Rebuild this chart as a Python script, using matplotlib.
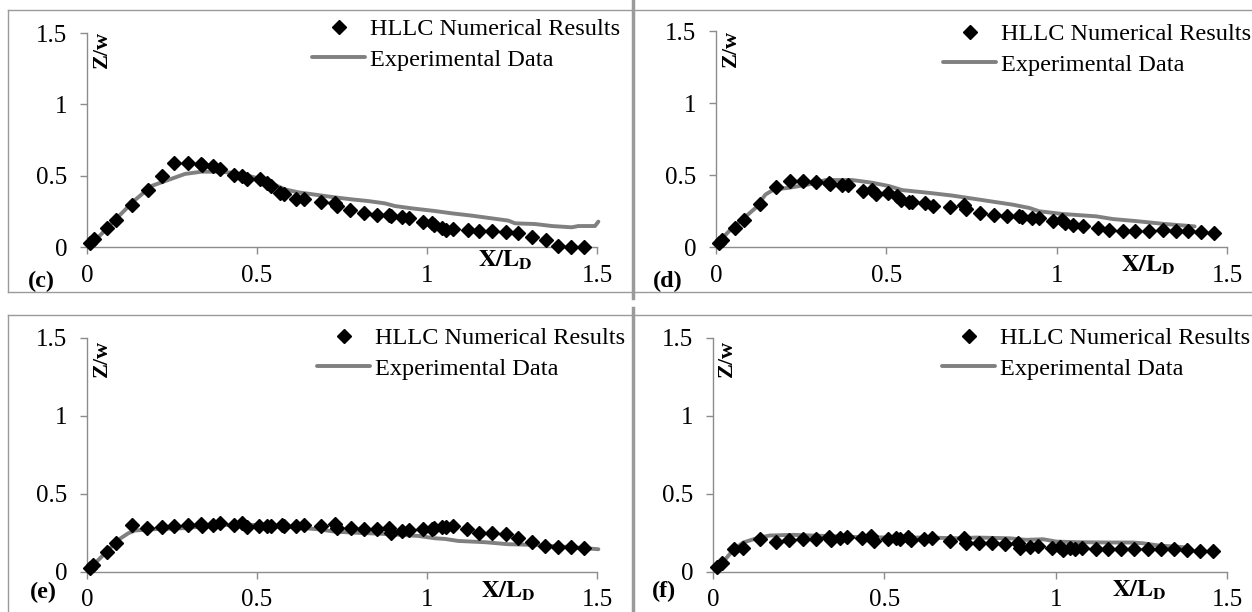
import matplotlib
matplotlib.use("Agg")
import matplotlib.pyplot as plt
from matplotlib.lines import Line2D

# ---------- data ----------
# (c)
c_hllc_x = [0.009, 0.022, 0.058, 0.084, 0.133, 0.178, 0.221, 0.257, 0.298, 0.335, 0.339, 0.370, 0.391,
            0.432, 0.457, 0.470, 0.509, 0.530, 0.540, 0.568, 0.580, 0.614, 0.639, 0.688, 0.729, 0.734,
            0.774, 0.816, 0.854, 0.889, 0.894, 0.925, 0.947, 0.989, 1.014, 1.022, 1.045, 1.056, 1.077,
            1.120, 1.154, 1.192, 1.231, 1.269, 1.310, 1.349, 1.384, 1.423, 1.461]
c_hllc_y = [0.026, 0.054, 0.131, 0.189, 0.294, 0.400, 0.498, 0.591, 0.586, 0.582, 0.575, 0.568, 0.547,
            0.505, 0.498, 0.479, 0.474, 0.446, 0.428, 0.381, 0.371, 0.334, 0.334, 0.313, 0.311, 0.287,
            0.259, 0.241, 0.224, 0.224, 0.217, 0.213, 0.206, 0.178, 0.171, 0.152, 0.131, 0.119, 0.126,
            0.119, 0.114, 0.110, 0.107, 0.096, 0.072, 0.049, 0.007, 0.002, 0.002]
c_exp_x = [0.004, 0.033, 0.092, 0.141, 0.190, 0.239, 0.288, 0.337, 0.386, 0.425, 0.465, 0.504, 0.543,
           0.582, 0.622, 0.680, 0.729, 0.778, 0.827, 0.876, 0.906, 0.955, 1.024, 1.073, 1.131, 1.190,
           1.239, 1.259, 1.318, 1.367, 1.426, 1.445, 1.494, 1.504]
c_exp_y = [0.002, 0.068, 0.213, 0.329, 0.428, 0.470, 0.512, 0.528, 0.528, 0.521, 0.505, 0.481, 0.446,
           0.404, 0.383, 0.364, 0.348, 0.334, 0.322, 0.306, 0.287, 0.271, 0.252, 0.236, 0.220, 0.201,
           0.185, 0.166, 0.161, 0.147, 0.138, 0.147, 0.147, 0.178]

# (d)
d_hllc_x = [0.008, 0.018, 0.055, 0.081, 0.130, 0.176, 0.217, 0.255, 0.295, 0.331, 0.336, 0.369, 0.388,
            0.431, 0.457, 0.469, 0.506, 0.530, 0.542, 0.567, 0.576, 0.613, 0.637, 0.687, 0.728, 0.735,
            0.775, 0.815, 0.853, 0.890, 0.898, 0.927, 0.949, 0.988, 1.016, 1.025, 1.047, 1.076, 1.121,
            1.155, 1.194, 1.231, 1.271, 1.312, 1.349, 1.385, 1.425, 1.462]
d_hllc_y = [0.030, 0.049, 0.131, 0.190, 0.299, 0.416, 0.458, 0.458, 0.453, 0.446, 0.439, 0.430, 0.428,
            0.388, 0.393, 0.369, 0.376, 0.353, 0.329, 0.311, 0.311, 0.306, 0.283, 0.276, 0.294, 0.264,
            0.236, 0.224, 0.213, 0.217, 0.206, 0.201, 0.199, 0.178, 0.189, 0.166, 0.154, 0.143, 0.131,
            0.119, 0.114, 0.114, 0.114, 0.119, 0.112, 0.110, 0.105, 0.100]
d_exp_x = [0.000, 0.037, 0.076, 0.116, 0.145, 0.170, 0.214, 0.273, 0.322, 0.400, 0.459, 0.508, 0.547,
           0.625, 0.694, 0.773, 0.871, 0.920, 0.949, 1.018, 1.116, 1.165, 1.233, 1.312, 1.405]
d_exp_y = [0.014, 0.107, 0.189, 0.271, 0.364, 0.400, 0.411, 0.435, 0.465, 0.465, 0.446, 0.423, 0.395,
           0.376, 0.357, 0.329, 0.294, 0.271, 0.248, 0.229, 0.213, 0.194, 0.180, 0.161, 0.143]

# (e)
e_hllc_x = [0.009, 0.019, 0.058, 0.084, 0.133, 0.177, 0.221, 0.257, 0.298, 0.335, 0.339, 0.370, 0.391,
            0.432, 0.457, 0.470, 0.506, 0.530, 0.540, 0.573, 0.580, 0.614, 0.639, 0.688, 0.729, 0.734,
            0.775, 0.816, 0.854, 0.889, 0.894, 0.925, 0.947, 0.989, 1.014, 1.022, 1.045, 1.056, 1.077,
            1.117, 1.154, 1.192, 1.231, 1.269, 1.310, 1.347, 1.384, 1.423, 1.461]
e_hllc_y = [0.024, 0.045, 0.131, 0.189, 0.302, 0.281, 0.287, 0.298, 0.302, 0.308, 0.298, 0.302, 0.313,
            0.302, 0.313, 0.287, 0.292, 0.298, 0.292, 0.302, 0.292, 0.292, 0.302, 0.298, 0.308, 0.281,
            0.281, 0.276, 0.274, 0.281, 0.249, 0.266, 0.270, 0.274, 0.276, 0.281, 0.287, 0.287, 0.292,
            0.276, 0.253, 0.249, 0.244, 0.215, 0.191, 0.167, 0.163, 0.163, 0.152]
e_exp_x = [0.004, 0.053, 0.092, 0.122, 0.141, 0.190, 0.288, 0.386, 0.484, 0.582, 0.680, 0.729, 0.778,
           0.876, 0.925, 0.975, 1.024, 1.053, 1.092, 1.171, 1.239, 1.318, 1.367, 1.425, 1.504]
e_exp_y = [0.013, 0.120, 0.206, 0.249, 0.266, 0.274, 0.281, 0.302, 0.302, 0.291, 0.274, 0.259, 0.253,
           0.244, 0.238, 0.231, 0.216, 0.212, 0.199, 0.191, 0.178, 0.174, 0.167, 0.159, 0.146]

# (f)
f_hllc_x = [0.013, 0.025, 0.061, 0.088, 0.137, 0.183, 0.223, 0.263, 0.302, 0.339, 0.343, 0.372, 0.392,
            0.434, 0.461, 0.470, 0.511, 0.533, 0.545, 0.569, 0.579, 0.615, 0.640, 0.691, 0.732, 0.737,
            0.776, 0.815, 0.853, 0.890, 0.895, 0.926, 0.948, 0.989, 1.012, 1.021, 1.043, 1.057, 1.077,
            1.117, 1.153, 1.191, 1.228, 1.269, 1.308, 1.345, 1.383, 1.420, 1.459]
f_hllc_y = [0.034, 0.060, 0.146, 0.152, 0.210, 0.195, 0.206, 0.210, 0.212, 0.223, 0.206, 0.221, 0.227,
            0.221, 0.231, 0.201, 0.210, 0.221, 0.212, 0.223, 0.206, 0.210, 0.216, 0.201, 0.216, 0.184,
            0.189, 0.184, 0.180, 0.184, 0.156, 0.163, 0.167, 0.152, 0.159, 0.141, 0.152, 0.148, 0.152,
            0.148, 0.146, 0.148, 0.148, 0.148, 0.146, 0.148, 0.141, 0.137, 0.135]
f_exp_x = [0.006, 0.030, 0.059, 0.088, 0.127, 0.166, 0.234, 0.331, 0.429, 0.526, 0.623, 0.720, 0.769,
           0.866, 0.914, 0.963, 1.002, 1.060, 1.157, 1.225, 1.255, 1.303, 1.352, 1.390]
f_exp_y = [0.017, 0.066, 0.141, 0.189, 0.216, 0.234, 0.238, 0.231, 0.223, 0.221, 0.221, 0.216, 0.221,
           0.216, 0.206, 0.210, 0.195, 0.191, 0.189, 0.189, 0.184, 0.169, 0.163, 0.155]

tick_vals = [0, 0.5, 1, 1.5]
tick_text = ["0", "0.5", "1", "1.5"]
panel_names = ["(c)", "(d)", "(e)", "(f)"]

W, H = 1252, 612
GRAY = "#808080"
SPINE = "#8c8c8c"

plt.rcParams["font.family"] = "Liberation Serif"
plt.rcParams["mathtext.fontset"] = "stix"


def px(x):
    return x / W


def py(y):
    return 1 - y / H


fig = plt.figure(figsize=(W / 100, H / 100), dpi=100)

# panel frames (pixel positions)
frame_lines = [
    ([8, 1252], [10, 10], 1.0), ([8, 1252], [292, 292], 1.0), ([8, 8], [10, 292], 1.0),
    ([633, 633], [0, 298], 2.5),
    ([8, 1252], [315, 315], 1.0), ([8, 8], [315, 612], 1.0), ([633, 633], [308, 612], 2.5),
]
for xs, ys, lw in frame_lines:
    fig.add_artist(Line2D([px(v) for v in xs], [py(v) for v in ys], color="#9a9a9a", lw=lw))

# layout per panel: axes box (left, right, top, bottom in px), legend top-left, label positions
layouts = [
    dict(box=(87, 597, 33, 247), leg=(312, 18), xl=(1.23, 20), zw=(102, 31), name=(28, 287)),
    dict(box=(716, 1227, 31, 247), leg=(943, 23), xl=(1.27, 25), zw=(731, 30), name=(653, 287)),
    dict(box=(87, 597, 338, 572), leg=(317, 327), xl=(1.24, 26), zw=(102, 340), name=(30, 598)),
    dict(box=(713, 1227, 338, 572), leg=(942, 327), xl=(1.245, 25), zw=(727, 340), name=(652, 597)),
]
series = [
    (c_hllc_x, c_hllc_y, c_exp_x, c_exp_y),
    (d_hllc_x, d_hllc_y, d_exp_x, d_exp_y),
    (e_hllc_x, e_hllc_y, e_exp_x, e_exp_y),
    (f_hllc_x, f_hllc_y, f_exp_x, f_exp_y),
]

for lay, (hx, hy, ex, ey), name in zip(layouts, series, panel_names):
    l, r, t, b = lay["box"]
    ax = fig.add_axes([px(l), py(b), px(r - l), (b - t) / H])
    ax.plot(hx, hy, linestyle="none", marker="D", color="black", markersize=7,
            label="HLLC Numerical Results", clip_on=False, zorder=4)
    ax.plot(ex, ey, color=GRAY, lw=2.8, label="Experimental Data", clip_on=False,
            solid_capstyle="round", zorder=3)
    ax.set_xlim(0, 1.5)
    ax.set_ylim(0, 1.5)
    ax.set_xticks(tick_vals)
    ax.set_xticklabels(tick_text)
    ax.set_yticks(tick_vals)
    ax.set_yticklabels(tick_text)
    for s in ["top", "right"]:
        ax.spines[s].set_visible(False)
    for s in ["left", "bottom"]:
        ax.spines[s].set_color(SPINE)
        ax.spines[s].set_linewidth(1.0)
    ax.tick_params(direction="out", length=5, width=1, color=SPINE, labelsize=18)
    ax.tick_params(axis="y", pad=9)
    ax.tick_params(axis="x", pad=8 if t < 300 else 7)
    ax.patch.set_alpha(0)

    # axis titles
    zx, zy = lay["zw"]
    fig.text(px(zx), py(zy), "Z/w", rotation=90, ha="center", va="top",
             fontsize=16, fontweight="bold")
    xl_x, xl_off = lay["xl"]
    ax.annotate(r"$\mathbf{X/L}_{\mathbf{D}}$", xy=(xl_x, 0), xytext=(0, -xl_off * 0.72),
                textcoords="offset points", ha="center", va="baseline", fontsize=17.5,
                annotation_clip=False)

    # panel label
    nx, ny = lay["name"]
    fig.text(px(nx), py(ny), name, ha="left", va="baseline", fontsize=17.5, fontweight="bold")

    lx, ly = lay["leg"]
    ax.legend(loc="upper left", bbox_to_anchor=(px(lx), py(ly)), bbox_transform=fig.transFigure,
              frameon=False, fontsize=17.5, numpoints=1, handlelength=2.2, handletextpad=0.2,
              labelspacing=0.35, borderpad=0, borderaxespad=0)

fig.savefig("out.png", dpi=100)
